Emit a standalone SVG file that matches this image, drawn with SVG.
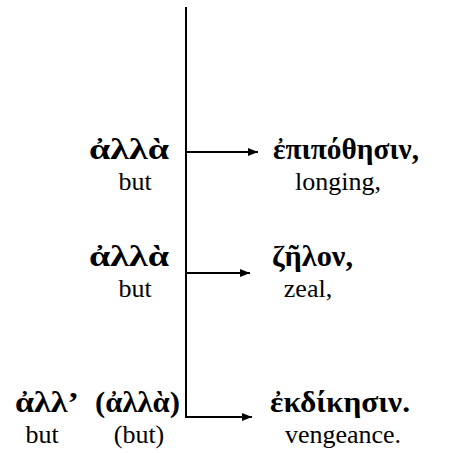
<svg xmlns="http://www.w3.org/2000/svg" width="457" height="453" viewBox="0 0 457 453">
<style>
.g{font-family:"Liberation Serif","DejaVu Serif",serif;font-weight:bold;font-size:29px;fill:#000}
.e{font-family:"Liberation Serif",serif;font-size:26px;fill:#000}
.c{stroke:#000;stroke-width:2;fill:none}
</style>
<defs>
<marker id="ah" viewBox="0 0 10 10" refX="10" refY="5" markerWidth="5" markerHeight="5" orient="auto" markerUnits="strokeWidth">
<path d="M0,1 L10,5 L0,9 z" fill="#000"/>
</marker>
</defs>
<rect width="457" height="453" fill="#fff"/>
<g id="connectors">
<line class="c" x1="186" y1="7" x2="186" y2="418"/>
<line class="c" x1="186" y1="152" x2="258" y2="152" marker-end="url(#ah)"/>
<line class="c" x1="186" y1="273" x2="250" y2="273" marker-end="url(#ah)"/>
<line class="c" x1="186" y1="417" x2="252" y2="417" marker-end="url(#ah)"/>
</g>
<g id="n1">
<text class="g" x="89" y="159" textLength="80" lengthAdjust="spacingAndGlyphs">ἀλλὰ</text>
<text class="e" x="135" y="190" text-anchor="middle">but</text>
</g>
<g id="n2">
<text class="g" x="273" y="159" textLength="146" lengthAdjust="spacingAndGlyphs">ἐπιπόθησιν,</text>
<text class="e" x="338" y="190" text-anchor="middle">longing,</text>
</g>
<g id="n3">
<text class="g" x="89" y="266" textLength="80" lengthAdjust="spacingAndGlyphs">ἀλλὰ</text>
<text class="e" x="135" y="297" text-anchor="middle">but</text>
</g>
<g id="n4">
<text class="g" x="272" y="266" textLength="81" lengthAdjust="spacingAndGlyphs">ζῆλον,</text>
<text class="e" x="308" y="297" text-anchor="middle">zeal,</text>
</g>
<g id="n5">
<text class="g" x="15" y="412" textLength="64" lengthAdjust="spacingAndGlyphs">ἀλλ’</text>
<text class="g" x="95" y="412" textLength="85" lengthAdjust="spacingAndGlyphs">(ἀλλὰ)</text>
<text class="e" x="42" y="443" text-anchor="middle">but</text>
<text class="e" x="139" y="443" text-anchor="middle">(but)</text>
</g>
<g id="n6">
<text class="g" x="270" y="412" textLength="140" lengthAdjust="spacingAndGlyphs">ἐκδίκησιν.</text>
<text class="e" x="343" y="443" text-anchor="middle">vengeance.</text>
</g>
</svg>
